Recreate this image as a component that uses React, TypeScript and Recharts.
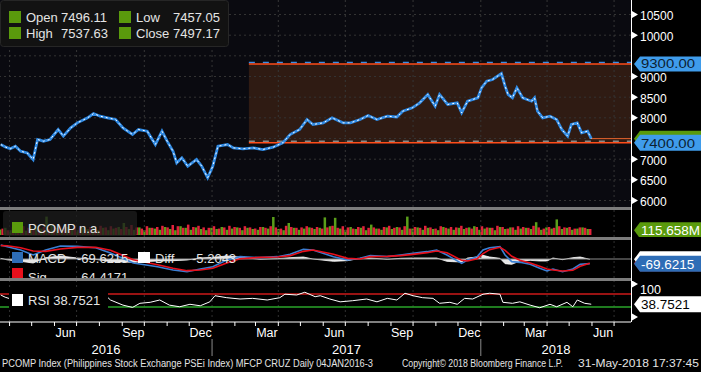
import React from "react";
import { ComposedChart, Line, Bar, Area, XAxis, YAxis, ReferenceLine, ReferenceArea } from "recharts";

const FONT = "'Liberation Sans', Arial, Helvetica, sans-serif";
const W = 701;
const H = 372;
const AXIS_W = 70;
const PLOT_W = W - AXIS_W;

function dayNum(s: string): number {
  const [y, m, d] = s.split("-").map(Number);
  return (Date.UTC(y, m - 1, d || 1) - Date.UTC(2016, 0, 1)) / 86400000;
}

const X_START = "2016-03-19";
const X_END = "2018-07-24";
const D0 = dayNum(X_START);
const D1 = dayNum(X_END);

// ---------- price (close) ----------
const priceDates = [
  "2016-03-20", "2016-03-27", "2016-04-02", "2016-04-09", "2016-04-16", "2016-04-25", "2016-05-03", "2016-05-09",
  "2016-05-17", "2016-05-26", "2016-06-06", "2016-06-13", "2016-06-23", "2016-07-02", "2016-07-16", "2016-07-24",
  "2016-08-02", "2016-08-12", "2016-08-23", "2016-09-02", "2016-09-15", "2016-09-23", "2016-10-05", "2016-10-16",
  "2016-10-25", "2016-11-01", "2016-11-09", "2016-11-14", "2016-11-21", "2016-11-29", "2016-12-11", "2016-12-18",
  "2016-12-26", "2017-01-02", "2017-01-09", "2017-01-22", "2017-01-30", "2017-02-12", "2017-02-26", "2017-03-11",
  "2017-03-25", "2017-04-07", "2017-04-17", "2017-04-30", "2017-05-10", "2017-05-18", "2017-06-01", "2017-06-13",
  "2017-06-28", "2017-07-08", "2017-07-21", "2017-08-01", "2017-08-13", "2017-08-27", "2017-09-09", "2017-09-17",
  "2017-09-30", "2017-10-10", "2017-10-21", "2017-10-31", "2017-11-06", "2017-11-17", "2017-11-30", "2017-12-06",
  "2017-12-14", "2017-12-28", "2018-01-02", "2018-01-09", "2018-01-17", "2018-01-29", "2018-02-03", "2018-02-07",
  "2018-02-13", "2018-02-19", "2018-02-27", "2018-03-11", "2018-03-15", "2018-03-19", "2018-03-26", "2018-04-05",
  "2018-04-14", "2018-04-21", "2018-04-29", "2018-05-04", "2018-05-12", "2018-05-18", "2018-05-26", "2018-05-31",
];
const priceClose = [
  7355, 7290, 7251, 7314, 7193, 7150, 6992, 7476,
  7435, 7476, 7718, 7557, 7758, 7879, 8000, 8105,
  8040, 8000, 7960, 7758, 7597, 7718, 7678, 7355,
  7678, 7436, 7193, 6912, 7033, 6830, 6992, 6830,
  6549, 6830, 7314, 7355, 7274, 7251, 7274, 7234,
  7290, 7395, 7597, 7718, 7960, 7839, 7879, 8000,
  7879, 7879, 7960, 8057, 7960, 8040, 8020, 8161,
  8242, 8363, 8565, 8282, 8565, 8323, 8363, 8121,
  8403, 8485, 8726, 8887, 8927, 9073, 8766, 8565,
  8484, 8726, 8484, 8403, 8484, 8161, 8000, 8040,
  7960, 7718, 7557, 7839, 7879, 7637, 7678, 7497.17,
];
const legendOpen = "7496.11";
const legendHigh = "7537.63";
const legendLow = "7457.05";
const legendClose = "7497.17";
const LAST_CLOSE = 7497.17;

const RANGE_START = "2017-02-20";
const RANGE_HIGH = 9300;
const RANGE_LOW = 7400;

const priceTicks = [6000, 6500, 7000, 7500, 8000, 8500, 9000, 9500, 10000, 10500];
const hiddenPriceTicks = [7500, 9500];

// ---------- volume (millions, weekly up / down) ----------
const VOL_START = "2016-03-21";
const volUp = [
  140, 180, 120, 210, 150, 110, 190, 230, 160, 460,
  250, 180, 130, 200, 160, 120, 190, 150, 220, 130,
  180, 120, 160, 200, 300, 150, 130, 190, 120, 180,
  160, 130, 200, 150, 120, 220, 180, 130, 190, 150,
  120, 180, 150, 200, 130, 160, 190, 120, 180, 150,
  130, 200, 160, 450, 150, 120, 300, 180, 130, 160,
  190, 150, 180, 440, 220, 430, 160, 130, 200, 150,
  180, 120, 260, 160, 130, 190, 150, 200, 130, 460,
  160, 190, 130, 180, 150, 120, 200, 160, 130, 180,
  150, 190, 220, 130, 160, 180, 120, 200, 150, 190,
  130, 160, 180, 150, 320, 130, 190, 160, 390, 150,
  180, 130, 160, 190, 150,
];
const volDown = [
  160, 120, 190, 130, 220, 180, 130, 160, 200, 150,
  200, 230, 180, 150, 220, 190, 130, 200, 160, 230,
  190, 220, 180, 150, 200, 250, 190, 160, 220, 180,
  200, 230, 190, 250, 220, 180, 260, 200, 230, 190,
  180, 220, 160, 190, 230, 200, 180, 220, 190, 160,
  200, 180, 220, 190, 160, 230, 200, 180, 190, 220,
  180, 200, 160, 190, 230, 180, 220, 190, 160, 200,
  220, 180, 190, 160, 200, 230, 180, 190, 220, 160,
  200, 180, 230, 190, 160, 220, 180, 200, 190, 230,
  180, 160, 200, 220, 190, 180, 230, 200, 160, 190,
  220, 200, 180, 230, 190, 160, 200, 180, 220, 190,
  200, 160, 190, 180, 150,
];
const LAST_VOLUME = 115.658;

// ---------- MACD ----------
const macdDates = [
  "2016-03-20", "2016-03-29", "2016-04-16", "2016-05-03", "2016-05-20", "2016-06-09", "2016-07-02", "2016-07-27", "2016-08-16", "2016-09-16",
  "2016-10-19", "2016-11-09", "2016-11-28", "2016-12-16", "2017-01-02", "2017-01-21", "2017-02-08", "2017-03-07", "2017-03-31", "2017-04-17",
  "2017-05-05", "2017-05-18", "2017-06-15", "2017-07-04", "2017-07-21", "2017-08-04", "2017-08-27", "2017-09-14", "2017-10-01", "2017-10-20",
  "2017-11-02", "2017-11-16", "2017-11-24", "2017-12-06", "2017-12-14", "2017-12-27", "2018-01-04", "2018-01-13", "2018-01-27", "2018-02-03",
  "2018-02-12", "2018-02-23", "2018-03-09", "2018-03-22", "2018-04-01", "2018-04-09", "2018-04-22", "2018-05-06", "2018-05-16", "2018-05-29",
];
const macdVals = [
  210, 185, 135, 60, 135, 195, 190, 170, 90, -60,
  -115, -165, -190, -150, -115, -15, 35, 20, 35, 70,
  145, 135, 35, -15, 10, 50, 35, 60, 85, 110,
  135, 60, 10, -65, -15, 35, 135, 170, 185, 60,
  -40, -50, -80, -140, -180, -150, -190, -150, -80, -69.6215,
];
const sigVals = [
  200, 198, 170, 120, 115, 150, 175, 175, 130, -10,
  -85, -140, -175, -165, -140, -60, 5, 25, 30, 50,
  115, 135, 70, 10, 0, 35, 40, 50, 70, 95,
  120, 95, 50, -20, -30, 5, 80, 140, 175, 130,
  40, -20, -60, -110, -150, -165, -180, -170, -110, -64.4171,
];
const diffVals = [
  10, -13, -35, -60, 20, 45, 15, -5, -40, -50,
  -30, -25, -15, 15, 25, 45, 30, -5, 5, 20,
  30, 0, -35, -25, 10, 15, -5, 10, 15, 15,
  15, -35, -40, -45, 15, 30, 55, 30, 10, -70,
  -80, -30, -20, -30, -30, 15, -10, 20, 30, -5.2043,
];

// ---------- RSI ----------
const rsiDates = [
  "2016-03-20", "2016-03-26", "2016-04-02", "2016-04-16", "2016-05-03", "2016-05-09", "2016-05-26", "2016-06-13",
  "2016-07-02", "2016-07-24", "2016-08-12", "2016-08-16", "2016-09-02", "2016-09-15", "2016-09-25", "2016-10-09",
  "2016-10-22", "2016-11-04", "2016-11-18", "2016-12-02", "2016-12-16", "2016-12-29", "2017-01-05", "2017-01-21",
  "2017-02-08", "2017-02-25", "2017-03-17", "2017-04-03", "2017-04-10", "2017-04-26", "2017-05-07", "2017-05-21",
  "2017-05-28", "2017-06-10", "2017-06-24", "2017-07-11", "2017-07-30", "2017-08-13", "2017-08-27", "2017-09-09",
  "2017-09-20", "2017-10-01", "2017-10-14", "2017-10-28", "2017-11-06", "2017-11-20", "2017-11-30", "2017-12-10",
  "2017-12-21", "2018-01-04", "2018-01-13", "2018-01-27", "2018-01-31", "2018-02-13", "2018-02-23", "2018-03-09",
  "2018-03-22", "2018-04-05", "2018-04-14", "2018-04-28", "2018-05-06", "2018-05-12", "2018-05-22", "2018-05-31",
];
const rsiVals = [
  66.7, 60, 55, 45, 35, 62, 60, 58,
  68, 72, 60, 51.5, 36, 29, 41.5, 44.5,
  51.5, 36, 31, 38.5, 34, 46, 64.5, 58.5,
  54.5, 56.5, 51.5, 58.5, 69, 66.7, 75, 61.5,
  64.5, 54.5, 46, 49.4, 54.5, 46, 56.5, 51.5,
  72, 64.5, 58.5, 56.5, 41.5, 44.5, 38.5, 56.5,
  54.5, 69, 72, 69, 44.5, 41.5, 46, 36,
  28, 38.5, 31, 44.5, 31, 51.5, 41.5, 38.7521,
];
const RSI_UPPER = 70;
const RSI_LOWER = 30;

// ---------- axis labels ----------
const monthNames = ["Jan", "Feb", "Mar", "Apr", "May", "Jun", "Jul", "Aug", "Sep", "Oct", "Nov", "Dec"];
const quarterLabelMonths = ["2016-06", "2016-09", "2016-12", "2017-03", "2017-06", "2017-09", "2017-12", "2018-03", "2018-06"];
const yearLabels = ["2016", "2017", "2018"];
const quarterGrid = ["2016-04-01", "2016-07-01", "2016-10-01", "2017-01-01", "2017-04-01", "2017-07-01", "2017-10-01", "2018-01-01", "2018-04-01", "2018-07-01"];
const footerLeft = "PCOMP Index (Philippines Stock Exchange PSEi Index) MFCP CRUZ  Daily 04JAN2016-3";
const footerMid = "Copyright\u00A9 2018 Bloomberg Finance L.P.";
const footerRight = "31-May-2018 17:37:45";

// ---------- derived tables ----------
const priceRows = priceDates.map((d, i) => ({ d: dayNum(d), close: priceClose[i] }));
const volRows = volUp.map((u, i) => ({ d: dayNum(VOL_START) + 7 * i, up: u, down: volDown[i] }));
const macdRows = macdDates.map((d, i) => ({ d: dayNum(d), macd: macdVals[i], sig: sigVals[i], diff: diffVals[i] }));
const rsiRows = rsiDates.map((d, i) => ({ d: dayNum(d), rsi: rsiVals[i] }));
const gridX = quarterGrid.map(dayNum);

type TickInfo = { kind: "m" | "q" | "y"; label?: string; boundary?: boolean };
const tickInfo = new Map<number, TickInfo>();
for (let y = 2016; y <= 2018; y++) {
  for (let m = 1; m <= 12; m++) {
    const v = dayNum(`${y}-${m}-1`);
    if (v > D0 && v < D1) tickInfo.set(v, { kind: "m", boundary: m === 1 });
  }
}
quarterLabelMonths.forEach((s) => {
  const [y, m] = s.split("-").map(Number);
  const a = dayNum(`${y}-${m}-1`);
  const b = m === 12 ? dayNum(`${y + 1}-1-1`) : dayNum(`${y}-${m + 1}-1`);
  tickInfo.set((a + b) / 2, { kind: "q", label: monthNames[m - 1] });
});
yearLabels.forEach((ys) => {
  const y = Number(ys);
  const a = Math.max(D0, dayNum(`${y}-1-1`));
  const b = Math.min(D1, dayNum(`${y + 1}-1-1`));
  tickInfo.set((a + b) / 2 + 0.01, { kind: "y", label: ys });
});
const bottomTicks = Array.from(tickInfo.keys()).sort((a, b) => a - b);

// ---------- renderers ----------
const Marker = ({ x, y }: { x: number; y: number }) => (
  <polygon points={`${x + 1},${y - 3.5} ${x + 7},${y} ${x + 1},${y + 3.5}`} fill="#ffffff" />
);

const MainTick = (props: any) => {
  const { x, y, payload } = props;
  if (hiddenPriceTicks.includes(payload.value)) return <g />;
  return (
    <g>
      <Marker x={x} y={y} />
      <text x={x + 9} y={y + 1.5} dominantBaseline="central" fill="#ffffff" fontSize={12} fontFamily={FONT}>
        {payload.value}
      </text>
    </g>
  );
};

const VolTick = (props: any) => {
  const { x, y } = props;
  return (
    <g>
      <Marker x={x} y={y} />
      <text x={x + 9} y={y + 2} dominantBaseline="central" fill="#ffffff" fontSize={11} fontFamily={FONT}>
        0.5B
      </text>
    </g>
  );
};

const RsiTick = (props: any) => {
  const { x, y, payload } = props;
  return (
    <g>
      <Marker x={x} y={y} />
      {payload.value === 100 ? (
        <text x={x + 9} y={y + 6} dominantBaseline="central" fill="#ffffff" fontSize={12.5} fontFamily={FONT}>
          100
        </text>
      ) : null}
    </g>
  );
};

const ValueTag = (props: any) => {
  const { viewBox, text, bg, fg, h = 16, fs = 13, tl, ty = 0.5 } = props;
  if (!viewBox) return null;
  const x0 = viewBox.x + viewBox.width;
  const y = viewBox.y;
  const tip = x0 + 3;
  const body = x0 + 9;
  const right = x0 + AXIS_W;
  const pts = `${tip},${y} ${body},${y - h / 2} ${right},${y - h / 2} ${right},${y + h / 2} ${body},${y + h / 2}`;
  return (
    <g>
      <polygon points={pts} fill={bg} />
      {text ? (
        <text
          x={body + 1}
          y={y + ty}
          dominantBaseline="central"
          fill={fg}
          fontSize={fs}
          fontFamily={FONT}
          {...(tl ? { textLength: tl, lengthAdjust: "spacingAndGlyphs" } : {})}
        >
          {text}
        </text>
      ) : null}
    </g>
  );
};

const BottomTick = (props: any) => {
  const { x, y, payload } = props;
  const info = tickInfo.get(payload.value);
  if (!info) return <g />;
  if (info.kind === "m") {
    return (
      <g>
        <line x1={x} x2={x} y1={y} y2={y + 4} stroke="#ffffff" strokeWidth={1} />
        {info.boundary ? <line x1={x} x2={x} y1={y + 17} y2={y + 34} stroke="#8a8a8a" strokeWidth={1} /> : null}
      </g>
    );
  }
  if (info.kind === "q") {
    return (
      <text x={x} y={y + 11} textAnchor="middle" dominantBaseline="central" fill="#ffffff" fontSize={12.5} fontFamily={FONT}>
        {info.label}
      </text>
    );
  }
  return (
    <text x={x} y={y + 27} textAnchor="middle" dominantBaseline="central" fill="#ffffff" fontSize={13} fontFamily={FONT}>
      {info.label}
    </text>
  );
};

const gridLines = (stroke = "#3a3a3a") =>
  gridX.map((v) => (
    <ReferenceLine key={`gx${v}`} x={v} stroke={stroke} strokeDasharray="2 3" strokeWidth={1} />
  ));

const margin = { top: 0, right: 0, bottom: 0, left: 0 };

const MainChart = () => (
  <ComposedChart width={W} height={211} data={priceRows} margin={{ top: 0, right: 0, bottom: 4, left: 0 }}>
    <XAxis dataKey="d" type="number" domain={[D0, D1]} allowDataOverflow hide />
    <YAxis
      orientation="right"
      width={AXIS_W}
      type="number"
      domain={[5843, 10851]}
      allowDataOverflow
      ticks={priceTicks}
      interval={0}
      axisLine={false}
      tickLine={false}
      tickSize={0}
      tickMargin={0}
      tick={<MainTick />}
    />
    <ReferenceArea x1={dayNum(RANGE_START)} x2={D1} y1={RANGE_LOW} y2={RANGE_HIGH} fill="#3c2114" fillOpacity={0.75} stroke="none" />
    {priceTicks.map((v) => (
      <ReferenceLine key={`gy${v}`} y={v} stroke="#333333" strokeDasharray="2 3" strokeWidth={1} />
    ))}
    {gridLines("#363636")}
    <ReferenceLine
      segment={[{ x: dayNum(RANGE_START), y: RANGE_HIGH + 36 }, { x: D1, y: RANGE_HIGH + 36 }]}
      stroke="#3b8fe6"
      strokeWidth={1.5}
      strokeDasharray="6 8"
    />
    <ReferenceLine
      segment={[{ x: dayNum(RANGE_START), y: RANGE_LOW + 36 }, { x: D1, y: RANGE_LOW + 36 }]}
      stroke="#8a8a8a"
      strokeWidth={1.5}
      strokeDasharray="6 8"
    />
    <ReferenceLine
      segment={[{ x: dayNum(RANGE_START), y: RANGE_HIGH }, { x: D1, y: RANGE_HIGH }]}
      stroke="#ff4d1a"
      strokeWidth={1.5}
      label={<ValueTag text="9300.00" bg="#3f9ceb" fg="#0d1f33" h={15} fs={13} tl={54} ty={-0.5} />}
    />
    <ReferenceLine
      segment={[{ x: priceRows[priceRows.length - 1].d, y: LAST_CLOSE }, { x: D1, y: LAST_CLOSE }]}
      stroke="#e8642c"
      strokeWidth={1}
      label={<ValueTag text="" bg="#5a9a0c" fg="#ffffff" h={16} fs={15} />}
    />
    <ReferenceLine
      segment={[{ x: dayNum(RANGE_START), y: RANGE_LOW }, { x: D1, y: RANGE_LOW }]}
      stroke="#ff4d1a"
      strokeWidth={1.5}
      label={<ValueTag text="7400.00" bg="#3f9ceb" fg="#0d1f33" h={16} fs={13.5} tl={54} />}
    />
    <Line dataKey="close" type="linear" stroke="#2f8ae4" strokeWidth={2.8} dot={false} activeDot={false} isAnimationActive={false} />
    <Line dataKey="close" type="linear" stroke="#ffffff" strokeWidth={1} strokeDasharray="2 3" dot={false} activeDot={false} isAnimationActive={false} />
  </ComposedChart>
);

const VolumeChart = () => (
  <ComposedChart width={W} height={27} data={volRows} margin={margin} barGap={0}>
    <XAxis dataKey="d" type="number" domain={[D0, D1]} allowDataOverflow hide ticks={gridX} />
    <YAxis
      orientation="right"
      width={AXIS_W}
      type="number"
      domain={[-50, 625]}
      allowDataOverflow
      ticks={[500]}
      axisLine={false}
      tickLine={false}
      tickSize={0}
      tickMargin={0}
      tick={<VolTick />}
    />
    {gridLines("#303030")}
    <Bar dataKey="up" fill="#5a9e1a" barSize={2.5} isAnimationActive={false} />
    <Bar dataKey="down" fill="#e2223c" barSize={2.5} isAnimationActive={false} />
    <ReferenceLine y={LAST_VOLUME} stroke="none" label={<ValueTag text="115.658M" bg="#5a9a0c" fg="#ffffff" h={16} fs={13.5} />} />
  </ComposedChart>
);

const MacdChart = () => (
  <ComposedChart width={W} height={38} data={macdRows} margin={margin}>
    <XAxis dataKey="d" type="number" domain={[D0, D1]} allowDataOverflow hide />
    <YAxis orientation="right" width={AXIS_W} type="number" domain={[-285, 285]} allowDataOverflow ticks={[]} axisLine={false} tickLine={false} />
    {gridLines("#303030")}
    <ReferenceLine y={0} stroke="#8c8c8c" strokeWidth={1} />
    <Area dataKey="diff" type="linear" baseValue={0} stroke="#ffffff" strokeWidth={0.8} fill="#ffffff" fillOpacity={0.9} dot={false} activeDot={false} isAnimationActive={false} />
    <Line dataKey="macd" type="linear" stroke="#3a7fd4" strokeWidth={1.6} dot={false} activeDot={false} isAnimationActive={false} />
    <Line dataKey="sig" type="linear" stroke="#e8101c" strokeWidth={1.6} dot={false} activeDot={false} isAnimationActive={false} />
    <ReferenceLine y={sigVals[sigVals.length - 1]} stroke="none" label={<ValueTag text="" bg="#e8101c" fg="#ffffff" h={16} fs={13.5} />} />
    <ReferenceLine y={diffVals[diffVals.length - 1]} stroke="none" label={<ValueTag text="" bg="#ffffff" fg="#000000" h={16} fs={13.5} />} />
    <ReferenceLine y={macdVals[macdVals.length - 1]} stroke="none" label={<ValueTag text="-69.6215" bg="#2e6db6" fg="#ffffff" h={16} fs={13.5} />} />
  </ComposedChart>
);

const RsiChart = () => (
  <ComposedChart width={W} height={91} data={rsiRows} margin={margin}>
    <XAxis
      dataKey="d"
      type="number"
      domain={[D0, D1]}
      allowDataOverflow
      ticks={bottomTicks}
      interval={0}
      height={50}
      axisLine={{ stroke: "#ffffff", strokeWidth: 1 }}
      tickLine={false}
      tickSize={0}
      tickMargin={0}
      tick={<BottomTick />}
    />
    <YAxis
      orientation="right"
      width={AXIS_W}
      type="number"
      domain={[-15.2, 109.1]}
      allowDataOverflow
      ticks={[0, 100]}
      interval={0}
      axisLine={false}
      tickLine={false}
      tickSize={0}
      tickMargin={0}
      tick={<RsiTick />}
    />
    {gridLines("#303030")}
    <ReferenceLine y={RSI_UPPER} stroke="#cc1a1a" strokeWidth={1.5} />
    <ReferenceLine y={RSI_LOWER} stroke="#2aa52a" strokeWidth={1.5} />
    <Line dataKey="rsi" type="linear" stroke="#ffffff" strokeWidth={1} dot={false} activeDot={false} isAnimationActive={false} />
    <ReferenceLine y={rsiVals[rsiVals.length - 1]} stroke="none" label={<ValueTag text="38.7521" bg="#ffffff" fg="#000000" h={16} fs={13.5} />} />
  </ComposedChart>
);

const txt = { fontFamily: FONT, fill: "#e4e4e4" } as const;

const Overlay = () => (
  <svg width={W} height={H} style={{ position: "absolute", left: 0, top: 0, pointerEvents: "none" }}>
    <defs>
      <clipPath id="macdClip">
        <rect x={0} y={240} width={PLOT_W} height={38} />
      </clipPath>
    </defs>
    {/* separators */}
    <rect x={0} y={207} width={PLOT_W} height={3} fill="#7c7c7c" />
    <rect x={0} y={237} width={PLOT_W} height={3} fill="#7c7c7c" />
    <line x1={PLOT_W + 0.5} x2={PLOT_W + 0.5} y1={0} y2={322} stroke="#ffffff" strokeWidth={1} />

    {/* main legend */}
    <rect x={0.5} y={0.5} width={228} height={46} rx={3} fill="#121212" stroke="#262626" />
    <rect x={9} y={11} width={12} height={12} fill="#5a9a0c" />
    <rect x={9} y={27} width={12} height={12} fill="#5a9a0c" />
    <rect x={119} y={11} width={12} height={12} fill="#5a9a0c" />
    <rect x={119} y={27} width={12} height={12} fill="#5a9a0c" />
    <text x={26} y={17} dominantBaseline="central" fontSize={13} {...txt}>Open</text>
    <text x={61} y={17} dominantBaseline="central" fontSize={13} {...txt}>{legendOpen}</text>
    <text x={26} y={33} dominantBaseline="central" fontSize={13} {...txt}>High</text>
    <text x={61} y={33} dominantBaseline="central" fontSize={13} {...txt}>{legendHigh}</text>
    <text x={136} y={17} dominantBaseline="central" fontSize={13} {...txt}>Low</text>
    <text x={220} y={17} dominantBaseline="central" textAnchor="end" fontSize={13} {...txt}>{legendLow}</text>
    <text x={136} y={33} dominantBaseline="central" fontSize={13} {...txt}>Close</text>
    <text x={220} y={33} dominantBaseline="central" textAnchor="end" fontSize={13} {...txt}>{legendClose}</text>

    {/* volume legend */}
    <rect x={3} y={211} width={134} height={25} rx={3} fill="#1c1c1c" fillOpacity={0.78} />
    <rect x={12} y={222} width={11} height={11} fill="#5a9a0c" />
    <text x={28} y={228} dominantBaseline="central" fontSize={13} {...txt}>PCOMP n.a.</text>

    {/* MACD legend */}
    <rect x={12} y={252} width={11} height={11} fill="#2e6db6" />
    <text x={28} y={258} dominantBaseline="central" fontSize={13} {...txt}>MACD</text>
    <text x={77} y={258} dominantBaseline="central" fontSize={13} {...txt}>-69.6215</text>
    <rect x={138} y={252} width={12} height={11} fill="#ffffff" />
    <text x={155} y={258} dominantBaseline="central" fontSize={13} {...txt}>Diff</text>
    <text x={192} y={258} dominantBaseline="central" fontSize={13} {...txt}>-5.2043</text>
    <g clipPath="url(#macdClip)">
      <rect x={12} y={268} width={11} height={11} fill="#e8101c" />
      <text x={28} y={277} dominantBaseline="central" fontSize={13} {...txt}>Sig</text>
      <text x={77} y={277} dominantBaseline="central" fontSize={13} {...txt}>-64.4171</text>
    </g>
    <rect x={0} y={278} width={PLOT_W} height={3} fill="#7c7c7c" />

    {/* RSI legend */}
    <rect x={9} y={287} width={99} height={23} fill="#000000" />
    <rect x={12} y={294} width={11} height={12} fill="#ffffff" />
    <text x={28} y={300.5} dominantBaseline="central" fontSize={13} {...txt}>RSI 38.7521</text>

    {/* footer */}
    <text x={2} y={363} dominantBaseline="central" fontSize={10} textLength={371} lengthAdjust="spacingAndGlyphs" {...txt}>{footerLeft}</text>
    <text x={402} y={363} dominantBaseline="central" fontSize={10} textLength={161} lengthAdjust="spacingAndGlyphs" {...txt}>{footerMid}</text>
    <text x={578} y={363} dominantBaseline="central" fontSize={10} textLength={121} lengthAdjust="spacingAndGlyphs" {...txt}>{footerRight}</text>
  </svg>
);

export default function App() {
  return (
    <div style={{ position: "fixed", left: 0, top: 0, width: W, height: H, background: "#000000", overflow: "hidden" }}>
      <div style={{ position: "absolute", left: 0, top: 0, width: PLOT_W, height: 207, background: "#0a0a10" }} />
      <div style={{ position: "absolute", left: 0, top: 0 }}>
        <MainChart />
      </div>
      <div style={{ position: "absolute", left: 0, top: 210 }}>
        <VolumeChart />
      </div>
      <div style={{ position: "absolute", left: 0, top: 240 }}>
        <MacdChart />
      </div>
      <div style={{ position: "absolute", left: 0, top: 281 }}>
        <RsiChart />
      </div>
      <Overlay />
    </div>
  );
}
